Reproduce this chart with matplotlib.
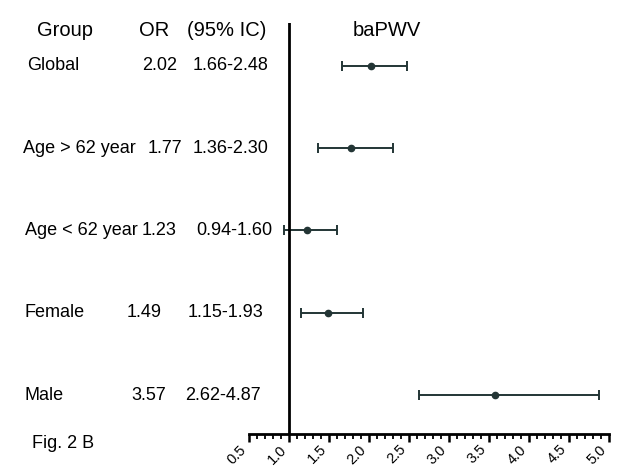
import numpy as np
import matplotlib
matplotlib.use("Agg")
import matplotlib.pyplot as plt
from matplotlib import transforms
from matplotlib.ticker import MultipleLocator

plt.rcParams["font.family"] = ["Liberation Sans", "DejaVu Sans"]

# ── Data ──────────────────────────────────────────────────────────────────────
groups   = ["Global", "Age > 62 year", "Age < 62 year", "Female", "Male"]
or_vals  = [2.02, 1.77, 1.23, 1.49, 3.57]
ci_low   = [1.66, 1.36, 0.94, 1.15, 2.62]
ci_high  = [2.48, 2.30, 1.60, 1.93, 4.87]
x_ticks  = [0.5, 1.0, 1.5, 2.0, 2.5, 3.0, 3.5, 4.0, 4.5, 5.0]

# column x positions in pixels (the table in the original is not aligned)
label_px = [27, 23, 25, 25, 25]
or_px    = [142, 148, 142, 127, 131]
ci_px    = [193, 193, 196, 188, 185]

# ── Figure ────────────────────────────────────────────────────────────────────
W, H = 623, 469
fig = plt.figure(figsize=(W / 100, H / 100), dpi=100)
ax = fig.add_axes([249 / W, 1 - 434 / H, (609 - 249) / W, (434 - 23) / H])

ypos = np.arange(len(groups), 0, -1)          # Global on top
or_arr = np.array(or_vals)
xerr = [or_arr - np.array(ci_low), np.array(ci_high) - or_arr]

line_col = "#233535"
ax.errorbar(or_arr, ypos, xerr=xerr, fmt="o", color=line_col, ecolor=line_col,
            markersize=4.5, elinewidth=1.4, capsize=3.5, capthick=1.4)

ax.axvline(1.0, color="black", linewidth=2.0)
ax.set_xlim(0.5, 5.0)
ax.set_ylim(1 - 39 / 82.25, 5 + 43 / 82.25)

for s in ["top", "right", "left"]:
    ax.spines[s].set_visible(False)
ax.spines["bottom"].set_linewidth(2.0)
ax.set_yticks([])

ax.xaxis.set_minor_locator(MultipleLocator(0.1))
ax.set_xticks(x_ticks)
ax.set_xticklabels([f"{t:.1f}" for t in x_ticks], rotation=45,
                   ha="right", va="top", fontsize=10.5)
ax.tick_params(axis="x", which="major", length=6, width=1.8, direction="out", pad=0)
ax.tick_params(axis="x", which="minor", length=3.5, width=1.3, direction="out")

# ── Table text ────────────────────────────────────────────────────────────────
tr = transforms.blended_transform_factory(fig.transFigure, ax.transData)
for i, y in enumerate(ypos):
    ax.text(label_px[i] / W, y, groups[i], transform=tr, fontsize=13,
            va="center", ha="left")
    ax.text(or_px[i] / W, y, f"{or_vals[i]:.2f}", transform=tr, fontsize=13,
            va="center", ha="left")
    ax.text(ci_px[i] / W, y, f"{ci_low[i]:.2f}-{ci_high[i]:.2f}", transform=tr,
            fontsize=13, va="center", ha="left")

hy = 1 - 30 / H
fig.text(37 / W, hy, "Group", fontsize=14.5, va="center", ha="left")
fig.text(139 / W, hy, "OR", fontsize=14.5, va="center", ha="left")
fig.text(187 / W, hy, "(95% IC)", fontsize=14.5, va="center", ha="left")
fig.text(353 / W, hy, "baPWV", fontsize=14.5, va="center", ha="left")
fig.text(32 / W, 1 - 443 / H, "Fig. 2 B", fontsize=13, va="center", ha="left")

fig.savefig("out.png", dpi=100)
